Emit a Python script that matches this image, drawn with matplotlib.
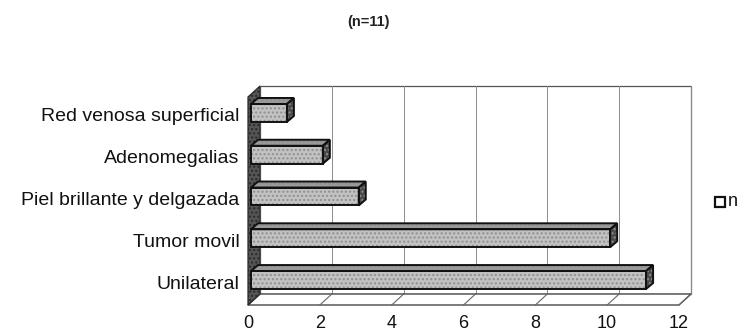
import matplotlib
matplotlib.use("Agg")
import matplotlib.pyplot as plt
from matplotlib.patches import Polygon, Rectangle

plt.rcParams["font.family"] = ["Liberation Sans", "DejaVu Sans"]

categories = ["Unilateral", "Tumor movil", "Piel brillante y delgazada",
              "Adenomegalias", "Red venosa superficial"]
values = [11, 10, 3, 2, 1]
series_name = "n"
title = "(n=11)"
x_ticks = [0, 2, 4, 6, 8, 10, 12]

W, H = 744, 336
fig = plt.figure(figsize=(W / 100, H / 100), dpi=100)

# front plane of the 3-D box, in figure pixels
x0_px, x1_px = 248, 679
yb_px, yt_px = 305, 97
ax = fig.add_axes([x0_px / W, 1 - yb_px / H, (x1_px - x0_px) / W, (yb_px - yt_px) / H])
ylo, yhi = -0.55, 4.43
ax.set_xlim(0, 12)
ax.set_ylim(ylo, yhi)
for s in ax.spines.values():
    s.set_visible(False)

ppx = (x1_px - x0_px) / 12.0
ppy = (yb_px - yt_px) / (yhi - ylo)

# depth of the box and of the bars (pixels -> data units)
DX, DY = 12 / ppx, 11 / ppy
BDX, BDY = 7 / ppx, 6 / ppy
OX, OY = 3 / ppx, 2 / ppy

# back wall
ax.add_patch(Polygon([(DX, ylo + DY), (12 + DX, ylo + DY), (12 + DX, yhi + DY), (DX, yhi + DY)],
                     closed=True, facecolor="white", edgecolor="#555555", lw=0.9,
                     clip_on=False, zorder=1))
for t in x_ticks:
    ax.plot([t + DX, t + DX], [ylo + DY, yhi + DY], color="#8c8c8c", lw=0.7,
            clip_on=False, zorder=1.5)
# floor
ax.add_patch(Polygon([(0, ylo), (12, ylo), (12 + DX, ylo + DY), (DX, ylo + DY)],
                     closed=True, facecolor="white", edgecolor="#333333", lw=0.9,
                     clip_on=False, zorder=2))
for t in x_ticks:
    ax.plot([t, t + DX], [ylo, ylo + DY], color="#666666", lw=0.8, clip_on=False, zorder=2.1)
# left side wall
ax.add_patch(Polygon([(0, ylo), (0, yhi), (DX, yhi + DY), (DX, ylo + DY)],
                     closed=True, facecolor="#555555", edgecolor="#2a2a2a", lw=0.9,
                     hatch="....", clip_on=False, zorder=2.5))

# bars
bh = 0.43
for i, v in enumerate(values):
    y = i + OY
    xs = OX
    front = [(xs, y - bh / 2), (xs + v, y - bh / 2), (xs + v, y + bh / 2), (xs, y + bh / 2)]
    top = [(xs, y + bh / 2), (xs + v, y + bh / 2), (xs + v + BDX, y + bh / 2 + BDY),
           (xs + BDX, y + bh / 2 + BDY)]
    side = [(xs + v, y - bh / 2), (xs + v + BDX, y - bh / 2 + BDY),
            (xs + v + BDX, y + bh / 2 + BDY), (xs + v, y + bh / 2)]
    for poly, fc in ((top, "#9a9a9a"), (side, "#4a4a4a"), (front, "#c2c2c2")):
        ax.add_patch(Polygon(poly, closed=True, facecolor=fc, edgecolor="#8f8f8f",
                             lw=0, hatch="....", clip_on=False, zorder=3))
        ax.add_patch(Polygon(poly, closed=True, facecolor="none", edgecolor="#111111",
                             lw=1.4, clip_on=False, zorder=3.1))

ax.set_yticks(range(len(categories)), categories)
ax.set_xticks(x_ticks, [str(t) for t in x_ticks])
ax.tick_params(axis="y", length=0, pad=6, labelsize=14, labelcolor="#111111")
ax.tick_params(axis="x", length=0, pad=7.5, labelsize=13, labelcolor="#111111")

fig.text(368 / W, 1 - 22 / H, title, ha="center", va="center", fontsize=10.5,
         fontweight="bold", color="#222222")

# legend
ax.add_patch(Rectangle((715 / W, 1 - 207 / H), 10 / W, 10 / H, transform=fig.transFigure,
                       facecolor="white", edgecolor="#111111", lw=1.6, clip_on=False,
                       figure=fig))
fig.text(728 / W, 1 - 202 / H, series_name, ha="left", va="center", fontsize=13,
         color="#111111")

fig.savefig("out.png", dpi=100)
